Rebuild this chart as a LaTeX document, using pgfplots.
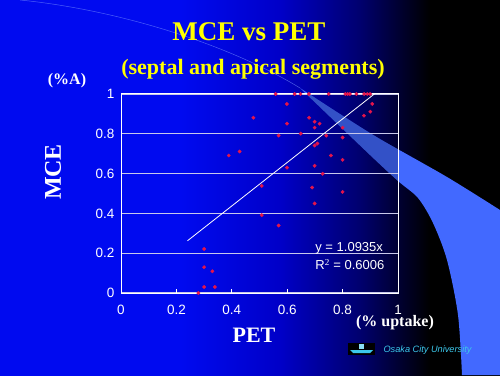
\documentclass[border=0pt]{standalone}
\usepackage{pgfplots}
\pgfplotsset{compat=1.18}
\usepackage{fontspec}
\setmainfont{Liberation Serif}
\newfontfamily\arial{Liberation Sans}
\definecolor{bgA}{RGB}{0,10,240}
\definecolor{bgB}{RGB}{0,0,200}
\definecolor{bgC}{RGB}{0,0,110}
\definecolor{band}{RGB}{66,105,255}
\definecolor{ptred}{RGB}{228,20,75}
\definecolor{gridc}{RGB}{200,200,235}
\definecolor{ttl}{RGB}{255,255,0}
\definecolor{cyanlogo}{RGB}{60,200,235}
\pgfdeclarehorizontalshading{bg}{100bp}{color(0bp)=(bgA); color(25bp)=(bgA); color(43bp)=(bgA); color(53bp)=(bgB); color(61bp)=(bgC); color(68bp)=(black); color(100bp)=(black)}
\begin{document}
\begin{tikzpicture}[x=1pt,y=1pt]
\useasboundingbox (0,0) rectangle (500,375);
\shade[shading=bg] (0,0) rectangle (500,375);
% band
\def\bandpath{plot[smooth] coordinates {(300,287) (340,261) (380,236) (447,198) (500,165)} -- (500,0) -- plot[smooth] coordinates {(462,0) (458,60) (447,115) (433,152) (418,177) (398,194) (370,220) (300,287)} -- cycle}
\fill[band] \bandpath;
\begin{scope}
\clip (121,82) rectangle (398,281);
\fill[black,opacity=0.22] \bandpath;
\end{scope}
\draw[band!70!white,line width=0.5pt,opacity=0.6] (20,375) .. controls (120,365) and (230,330) .. (300,287);
% titles
\node[text=ttl,font=\bfseries\fontsize{27}{27}\selectfont] at (249,343) {MCE vs PET};
\node[text=ttl,font=\bfseries\fontsize{22}{22}\selectfont] at (253,306) {(septal and apical segments)};
\node[text=white,font=\bfseries\fontsize{16}{16}\selectfont] at (67,294) {(\%A)};
\node[text=white,font=\bfseries\fontsize{24}{24}\selectfont,rotate=90] at (53,203) {MCE};
\node[text=white,font=\bfseries\fontsize{22}{22}\selectfont] at (254,40) {PET};
\node[text=white,font=\bfseries\fontsize{16}{16}\selectfont] at (395,52) {(\% uptake)};
% logo
\fill[black] (348,20) rectangle (375,32);
\fill[cyanlogo] (350,25) -- (373,25) -- (370,22) -- (353,22) -- cycle;
\fill[cyanlogo!60!white] (359,26) rectangle (364,31);
\node[text=cyanlogo,font=\arial\itshape\fontsize{9.2}{9.2}\selectfont,anchor=west] at (380,25) {Osaka City University};
\begin{axis}[
  at={(121pt,82pt)}, anchor=south west,
  scale only axis, width=277pt, height=199pt,
  xmin=0, xmax=1, ymin=0, ymax=1,
  clip=false,
  axis line style={white, line width=1pt},
  xtick={0,0.2,0.4,0.6,0.8,1},
  ytick={0,0.2,0.4,0.6,0.8,1},
  xticklabels={0,0.2,0.4,0.6,0.8,1},
  yticklabels={0,0.2,0.4,0.6,0.8,1},
  ymajorgrids,
  grid style={gridc, line width=1.2pt},
  x tick style={white, line width=0.8pt},
  xtick pos=bottom, ytick pos=left,
  xtick align=inside,
  major tick length=4pt,
  y tick style={draw=none},
  tick label style={text=white, font=\arial\fontsize{13.5}{13.5}\selectfont},
  xticklabel style={yshift=-9pt},
  yticklabel style={xshift=-3pt},
  /pgf/number format/assume math mode=true,
]
\addplot[white, line width=0.8pt] coordinates {(0.24,0.2624) (0.9145,1.0)};
\addplot[only marks, mark=*, mark size=1.7pt, mark options={draw=ptred, fill=ptred}] coordinates {
(0.558,1) (0.627,1) (0.648,1) (0.678,1) (0.750,1) (0.810,1) (0.818,1) (0.826,1) (0.850,1) (0.878,1) (0.889,1) (0.899,1)
(0.907,0.950) (0.900,0.911) (0.877,0.891) (0.599,0.950) (0.478,0.881) (0.599,0.851)
(0.679,0.881) (0.699,0.861) (0.717,0.851) (0.699,0.831) (0.800,0.831) (0.649,0.801)
(0.569,0.791) (0.741,0.791) (0.800,0.781) (0.709,0.751) (0.699,0.741) (0.428,0.711)
(0.389,0.691) (0.758,0.691) (0.800,0.669) (0.599,0.630) (0.699,0.639) (0.728,0.599)
(0.508,0.538) (0.690,0.530) (0.800,0.508) (0.699,0.450) (0.508,0.391) (0.569,0.339)
(0.300,0.221) (0.300,0.130) (0.330,0.109) (0.300,0.030) (0.339,0.030) (0.279,0.000)
};
\node[text=white, font=\arial\fontsize{13}{13}\selectfont, anchor=west, inner sep=0pt] at (axis cs:0.701,0.227) {y = 1.0935x};
\node[text=white, font=\arial\fontsize{13}{13}\selectfont, anchor=west, inner sep=0pt] at (axis cs:0.701,0.142) {R$^{\mathrm{2}}$ = 0.6006};
\end{axis}
\end{tikzpicture}
\end{document}
